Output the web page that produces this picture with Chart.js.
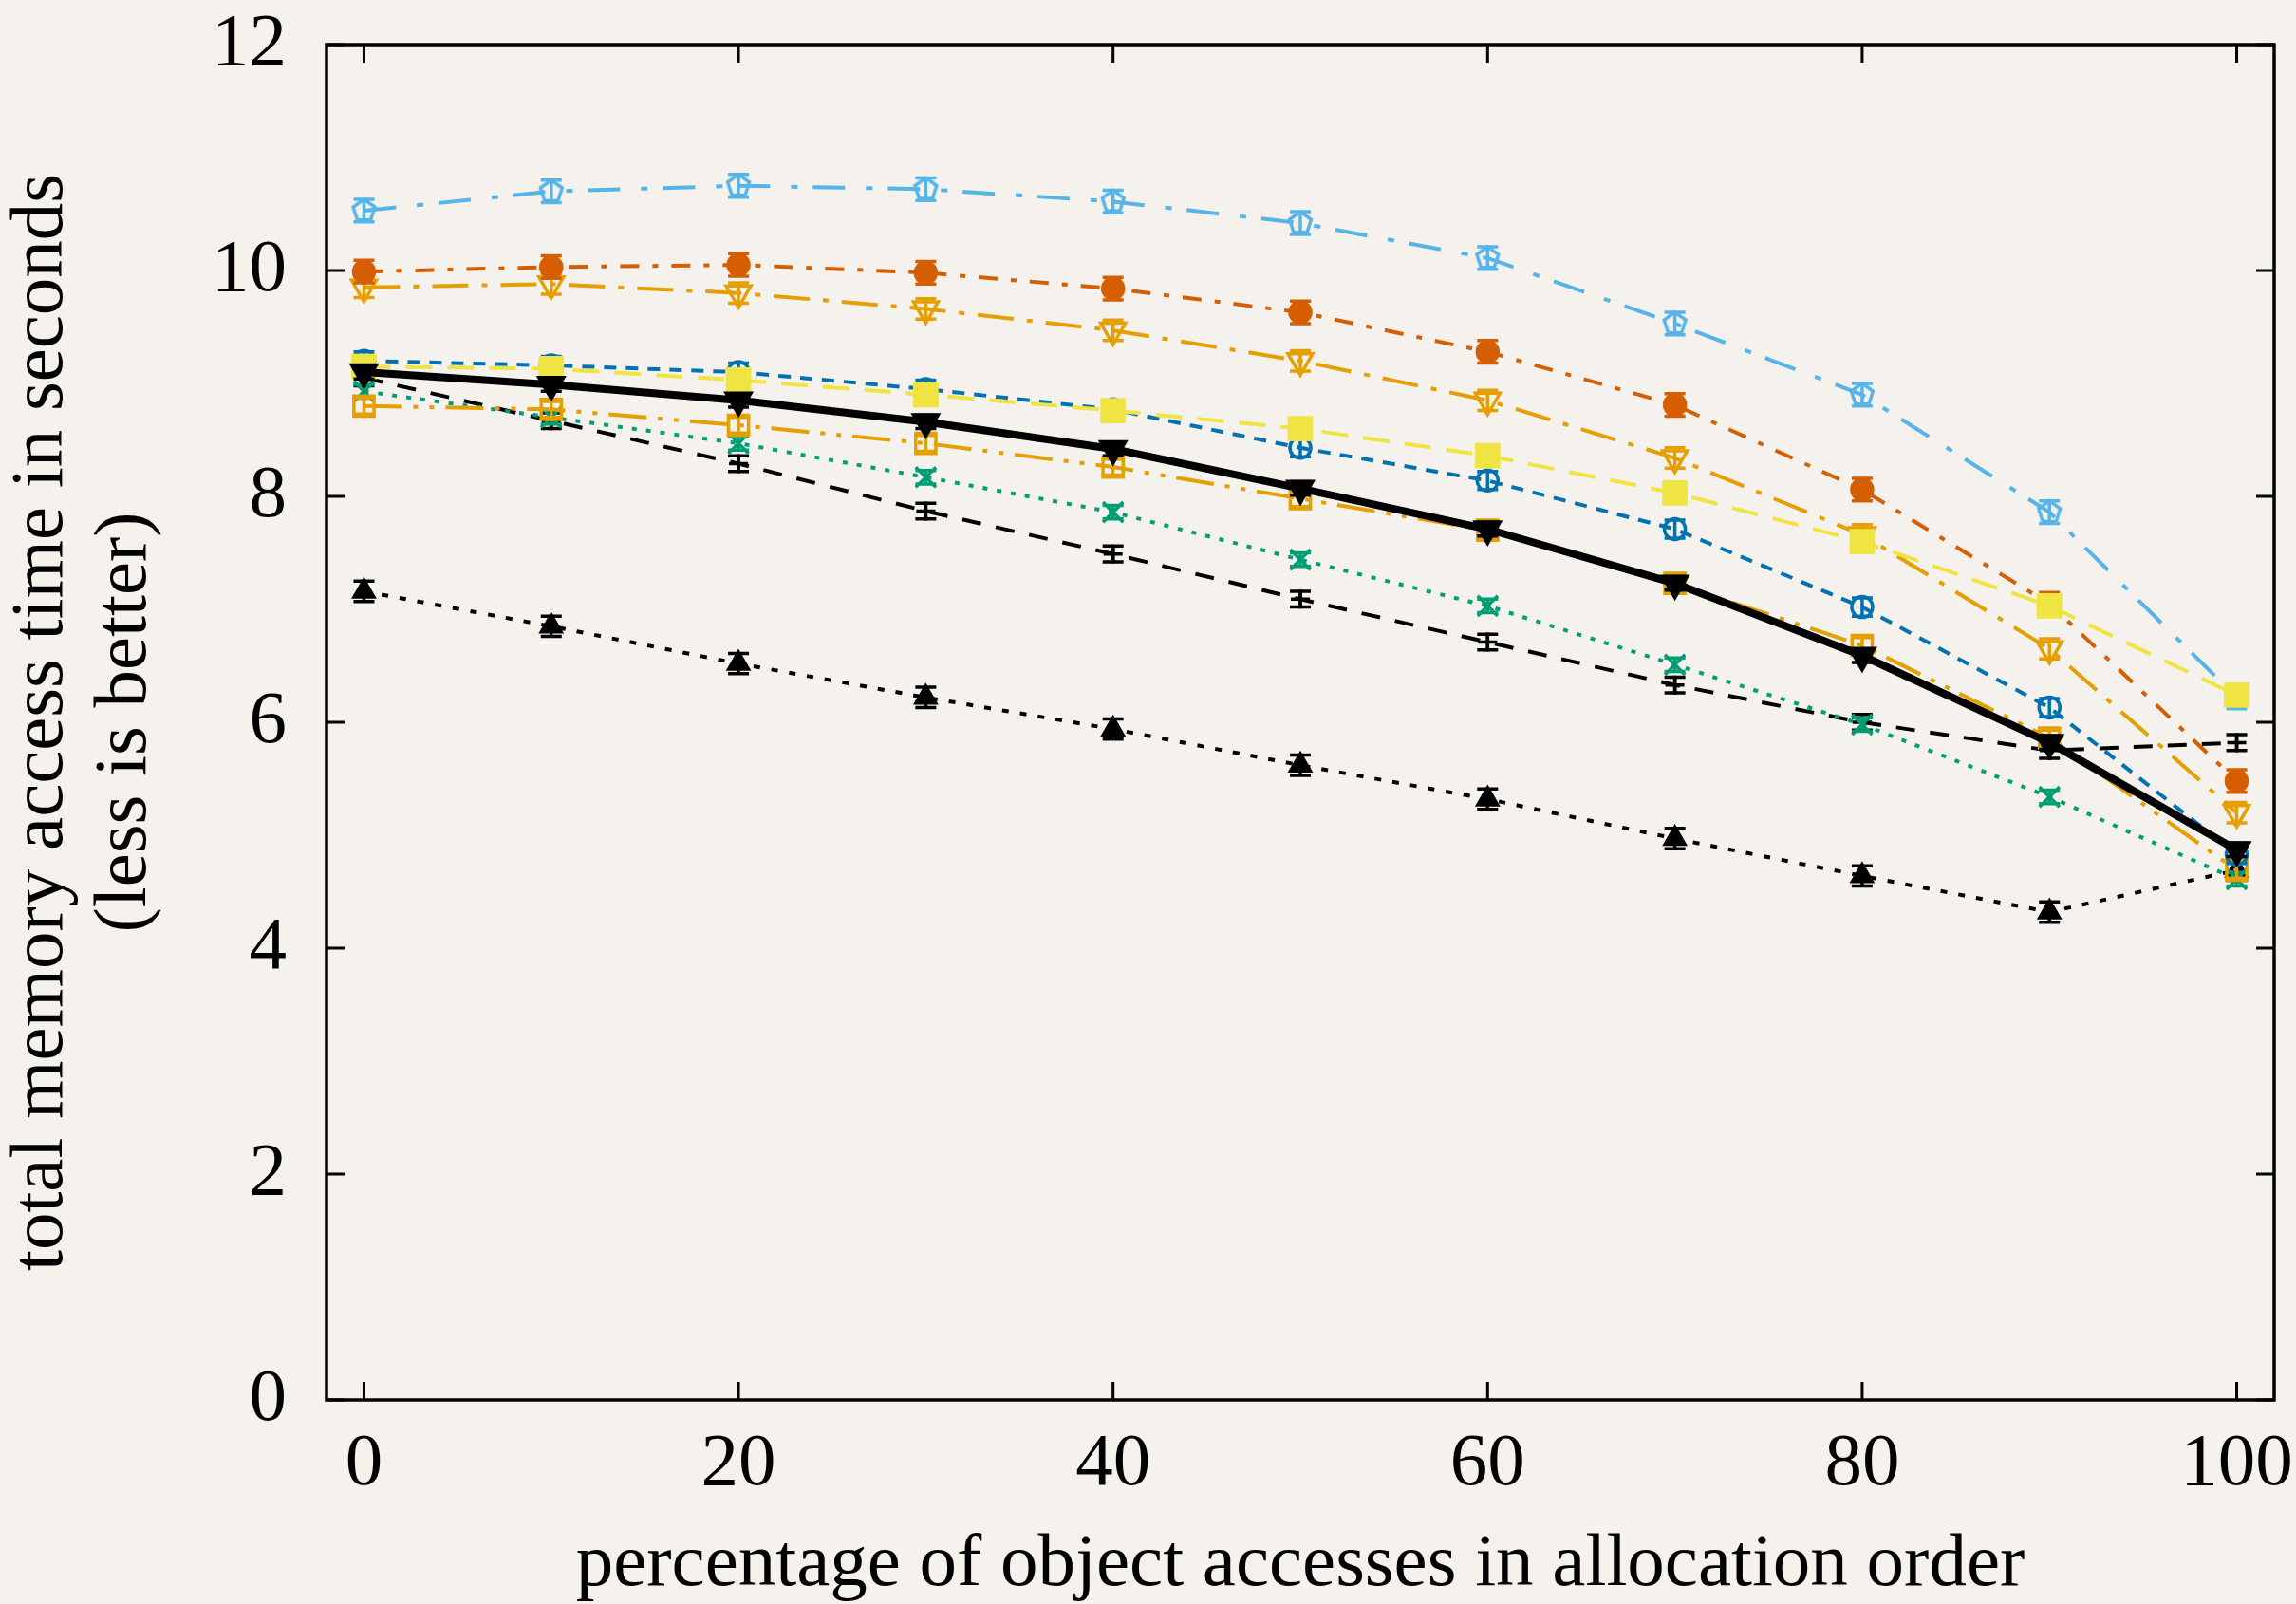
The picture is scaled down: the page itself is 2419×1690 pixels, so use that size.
<!DOCTYPE html>
<html>
<head>
<meta charset="utf-8">
<script src="https://cdn.jsdelivr.net/npm/chart.js@4.4.1/dist/chart.umd.min.js"></script>
<style>
  html, body { margin: 0; padding: 0; background: #f5f2ee; }
  #wrap { width: 2419px; height: 1690px; }
</style>
</head>
<body>
<div id="wrap"><canvas id="c" width="2419" height="1690"></canvas></div>
<script>
// ---- data ----
const xValues = [0, 10, 20, 30, 40, 50, 60, 70, 80, 90, 100];
const xTickValues = [0, 20, 40, 60, 80, 100];
const yTickValues = [0, 2, 4, 6, 8, 10, 12];
const xTitle = 'percentage of object accesses in allocation order';
const yTitle = ['total memory access time in seconds', '(less is better)'];

const seriesLightBlue = [10.53, 10.70, 10.75, 10.72, 10.61, 10.42, 10.11, 9.53, 8.90, 7.86, 6.22];
const seriesRed       = [9.99, 10.03, 10.05, 9.98, 9.84, 9.63, 9.28, 8.81, 8.06, 7.05, 5.48];
const seriesOrangeTri = [9.85, 9.88, 9.80, 9.66, 9.47, 9.20, 8.85, 8.34, 7.66, 6.65, 5.20];
const seriesBlue      = [9.20, 9.16, 9.10, 8.95, 8.77, 8.43, 8.14, 7.71, 7.02, 6.13, 4.83];
const seriesYellow    = [9.15, 9.13, 9.03, 8.90, 8.76, 8.60, 8.36, 8.03, 7.60, 7.03, 6.24];
const seriesBlackSolid= [9.10, 8.99, 8.85, 8.66, 8.42, 8.07, 7.71, 7.23, 6.59, 5.82, 4.87];
const seriesOrangeSq  = [8.80, 8.77, 8.63, 8.47, 8.26, 7.98, 7.70, 7.23, 6.68, 5.86, 4.69];
const seriesGreen     = [8.93, 8.70, 8.47, 8.17, 7.86, 7.44, 7.03, 6.51, 5.98, 5.34, 4.61];
const seriesBlackPlus = [9.05, 8.67, 8.29, 7.87, 7.49, 7.09, 6.71, 6.33, 6.00, 5.75, 5.82];
const seriesBlackTri  = [7.16, 6.85, 6.52, 6.22, 5.94, 5.62, 5.32, 4.97, 4.64, 4.32, 4.69];

// typical error-bar half widths (seconds), one per series, in dataset order below
const errorHalf = [0.06, 0.07, 0.10, 0.10, 0.09, 0.08, 0.07, 0.06, 0.07, 0.09];

// ---- styling ----
const FONT = '"Liberation Serif", "Times New Roman", serif';
const FS = 79;

function pentagon(color, r, lw) {
  const s = Math.ceil(2 * r + lw + 4);
  const c = document.createElement('canvas');
  c.width = s; c.height = s;
  const g = c.getContext('2d');
  g.strokeStyle = color; g.lineWidth = lw; g.lineJoin = 'miter';
  g.beginPath();
  for (let k = 0; k < 5; k++) {
    const a = -Math.PI / 2 + k * 2 * Math.PI / 5;
    const px = s / 2 + r * Math.cos(a), py = s / 2 + r * Math.sin(a);
    if (k) g.lineTo(px, py); else g.moveTo(px, py);
  }
  g.closePath(); g.stroke();
  return c;
}

function pts(arr) { return xValues.map((x, i) => ({ x: x, y: arr[i] })); }
const NONE = 'rgba(0,0,0,0)';

function ds(label, arr, color, dash, width, style, radius, fill, rot) {
  return {
    label: label, data: pts(arr),
    borderColor: color, backgroundColor: color,
    borderWidth: width, borderDash: dash,
    pointStyle: style, pointRadius: radius, pointHoverRadius: radius,
    pointBorderColor: color, pointBorderWidth: 3.5,
    pointBackgroundColor: fill ? color : NONE,
    pointRotation: rot || 0,
    showLine: true, tension: 0, fill: false
  };
}

const datasets = [
  ds('black solid', seriesBlackSolid, '#000000', [], 8, 'triangle', 15, true, 180),
  ds('yellow', seriesYellow, '#F0E442', [28, 16], 4, 'rect', 16.5, true, 0),
  ds('light blue', seriesLightBlue, '#56B4E9', [34, 22, 7, 16], 4, pentagon('#56B4E9', 12, 3.5), 12, false, 0),
  ds('red', seriesRed, '#D55E00', [20, 14, 6, 14], 4, 'circle', 11, true, 0),
  ds('orange tri', seriesOrangeTri, '#E69F00', [38, 14, 6, 14], 4, 'triangle', 15, false, 180),
  ds('blue', seriesBlue, '#0072B2', [13, 10], 4, 'circle', 11, false, 0),
  ds('orange sq', seriesOrangeSq, '#E69F00', [40, 12, 5, 12, 5, 12], 4, 'rect', 15, false, 0),
  ds('green', seriesGreen, '#009E73', [5, 10], 4, 'crossRot', 15, false, 0),
  ds('black plus', seriesBlackPlus, '#000000', [20, 16], 4, 'cross', 10, false, 0),
  ds('black tri', seriesBlackTri, '#000000', [7, 12], 4, 'triangle', 12, true, 0)
];

// error bars drawn through the library's scales
const errorBarPlugin = {
  id: 'errorBars',
  afterDatasetDraw(chart, args) {
    const ctx = chart.ctx;
    const yScale = chart.scales.y;
    const d = chart.data.datasets[args.index];
    const e = errorHalf[args.index];
    ctx.save();
    ctx.strokeStyle = d.borderColor;
    ctx.lineWidth = 3.5;
    ctx.setLineDash([]);
    args.meta.data.forEach((el, i) => {
      const v = d.data[i].y;
      const yT = yScale.getPixelForValue(v + e);
      const yB = yScale.getPixelForValue(v - e);
      ctx.beginPath();
      ctx.moveTo(el.x, yT); ctx.lineTo(el.x, yB);
      ctx.moveTo(el.x - 11, yT); ctx.lineTo(el.x + 11, yT);
      ctx.moveTo(el.x - 11, yB); ctx.lineTo(el.x + 11, yB);
      ctx.stroke();
    });
    ctx.restore();
  }
};

// gnuplot-like frame with inward ticks on all four sides
const framePlugin = {
  id: 'frame',
  beforeDatasetsDraw(chart) {
    const { ctx, chartArea: a, scales } = chart;
    const TL = 19;
    ctx.save();
    ctx.strokeStyle = '#000'; ctx.lineWidth = 3.5; ctx.setLineDash([]);
    ctx.strokeRect(a.left, a.top, a.right - a.left, a.bottom - a.top);
    ctx.lineWidth = 3;
    ctx.beginPath();
    yTickValues.forEach(v => {
      const y = scales.y.getPixelForValue(v);
      ctx.moveTo(a.left, y); ctx.lineTo(a.left + TL, y);
      ctx.moveTo(a.right, y); ctx.lineTo(a.right - TL, y);
    });
    xTickValues.forEach(v => {
      const x = scales.x.getPixelForValue(v);
      ctx.moveTo(x, a.bottom); ctx.lineTo(x, a.bottom - TL);
      ctx.moveTo(x, a.top); ctx.lineTo(x, a.top + TL);
    });
    ctx.stroke();
    ctx.restore();
  }
};

const bgPlugin = {
  id: 'bg',
  beforeDraw(chart) {
    const ctx = chart.ctx;
    ctx.save();
    ctx.fillStyle = '#f5f2ee';
    ctx.fillRect(0, 0, chart.width, chart.height);
    ctx.restore();
  }
};

new Chart(document.getElementById('c'), {
  type: 'line',
  data: { datasets: datasets },
  plugins: [bgPlugin, framePlugin, errorBarPlugin],
  options: {
    responsive: false,
    animation: false,
    devicePixelRatio: 1,
    layout: { padding: { top: 47, right: 23, left: 0, bottom: 0 } },
    plugins: { legend: { display: false }, tooltip: { enabled: false } },
    scales: {
      x: {
        type: 'linear', min: -2, max: 102,
        afterBuildTicks: s => { s.ticks = xTickValues.map(v => ({ value: v })); },
        afterFit: s => { s.height = 215; s.paddingLeft = 0; s.paddingRight = 0; },
        grid: { display: false, drawTicks: false },
        border: { display: false },
        ticks: { color: '#000', font: { family: FONT, size: FS }, padding: 21, maxRotation: 0, autoSkip: false },
        title: { display: true, text: xTitle, color: '#000', font: { family: FONT, size: FS, lineHeight: 1.12 }, padding: { top: 0, bottom: -3 } }
      },
      y: {
        type: 'linear', min: 0, max: 12,
        afterBuildTicks: s => { s.ticks = yTickValues.map(v => ({ value: v })); },
        afterFit: s => { s.width = 344; s.paddingTop = 0; s.paddingBottom = 0; },
        grid: { display: false, drawTicks: false },
        border: { display: false },
        ticks: { color: '#000', font: { family: FONT, size: FS }, padding: 42, autoSkip: false },
        title: { display: true, text: yTitle, color: '#000', font: { family: FONT, size: FS, lineHeight: 1.12 }, padding: { top: 0, bottom: 0 } }
      }
    }
  }
});
</script>
</body>
</html>
